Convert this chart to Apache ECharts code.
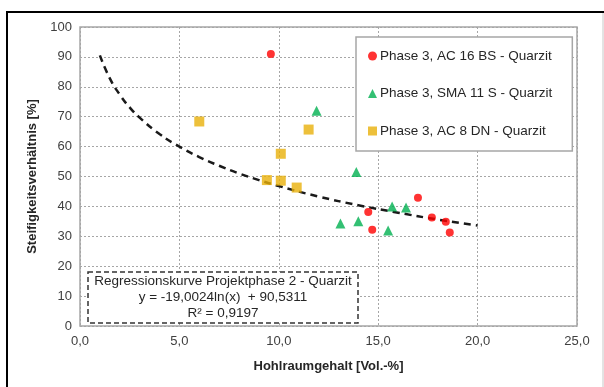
<!DOCTYPE html>
<html>
<head>
<meta charset="utf-8">
<script src="https://cdn.jsdelivr.net/npm/echarts@6/dist/echarts.min.js"></script>
<style>html,body{margin:0;padding:0;background:#fff;}#c{width:604px;height:387px;}</style>
</head>
<body>
<div id="c"></div>
<script>
// Data
const xTicks = [0, 5, 10, 15, 20, 25];
const yTicks = [0, 10, 20, 30, 40, 50, 60, 70, 80, 90, 100];
const seriesNames = ['Phase 3, AC 16 BS - Quarzit', 'Phase 3, SMA 11 S - Quarzit', 'Phase 3, AC 8 DN - Quarzit'];
const ac16bs = [[9.6, 91.0], [14.5, 38.1], [14.7, 32.2], [17.0, 42.9], [17.7, 36.3], [18.4, 34.9], [18.6, 31.3]];
const sma11s = [[11.9, 72.0], [13.9, 51.5], [13.1, 34.3], [14.0, 35.0], [15.5, 31.9], [15.7, 40.0], [16.4, 39.6]];
const ac8dn = [[6.0, 68.4], [11.5, 65.7], [10.1, 57.6], [9.4, 48.8], [10.1, 48.6], [10.9, 46.3]];
const curveX = [1.0, 1.5, 2, 2.5, 3, 4, 5, 6, 7, 8, 9, 10, 12, 14, 16, 18, 20];
const curveY = [90.5, 82.8, 77.4, 73.1, 69.7, 64.2, 60.0, 56.5, 53.6, 51.0, 48.8, 46.8, 43.3, 40.4, 37.9, 35.6, 33.6];
const regressionText = ['Regressionskurve Projektphase 2 - Quarzit', 'y = -19,0024ln(x)  + 90,5311', 'R² = 0,9197'];

const chart = echarts.init(document.getElementById('c'), null, {renderer: 'canvas'});
const font = 'Liberation Sans, Arial, sans-serif';
const fmt = v => v.toFixed(1).replace('.', ',');

chart.setOption({
  animation: false,
  backgroundColor: '#fff',
  textStyle: {fontFamily: font},
  grid: {left: 80, right: 27, top: 27, bottom: 61, show: true, borderColor: '#a6a6a6', borderWidth: 1.5, containLabel: false},
  xAxis: {
    type: 'value', min: xTicks[0], max: xTicks[xTicks.length - 1], interval: 5,
    name: 'Hohlraumgehalt [Vol.-%]', nameLocation: 'middle', nameGap: 34,
    nameTextStyle: {fontFamily: font, fontWeight: 'bold', fontSize: 13, color: '#262626'},
    axisLine: {show: false}, axisTick: {show: false},
    axisLabel: {formatter: fmt, fontFamily: font, fontSize: 13, color: '#404040', margin: 9},
    splitLine: {show: true, lineStyle: {color: '#a6a6a6', type: [2, 2], width: 1}}
  },
  yAxis: {
    type: 'value', min: yTicks[0], max: yTicks[yTicks.length - 1], interval: 10,
    name: 'Steifigkeitsverhältnis [%]', nameLocation: 'middle', nameGap: 41, nameRotate: 90,
    nameTextStyle: {fontFamily: font, fontWeight: 'bold', fontSize: 13, color: '#262626'},
    axisLine: {show: false}, axisTick: {show: false},
    axisLabel: {fontFamily: font, fontSize: 13, color: '#404040', margin: 8},
    splitLine: {show: true, lineStyle: {color: '#a6a6a6', type: [2, 2], width: 1}}
  },
  legend: {
    orient: 'vertical', left: 356, top: 37,
    padding: [12, 20, 13, 12], itemGap: 23.5, itemWidth: 9, itemHeight: 9,
    backgroundColor: '#fff', borderColor: '#a6a6a6', borderWidth: 1.5,
    textStyle: {fontFamily: font, fontSize: 13.5, color: '#262626', padding: [0, 0, 0, -2]},
    data: seriesNames
  },
  series: [
    {name: 'curve', type: 'line', data: curveX.map((x, i) => [x, curveY[i]]), smooth: true, symbol: 'none',
      lineStyle: {color: '#1a1a1a', width: 2.5, type: [7, 5]}, z: 1, silent: true},
    {name: seriesNames[0], type: 'scatter', data: ac16bs, symbol: 'circle', symbolSize: 8, itemStyle: {color: '#ff0000'}, z: 3},
    {name: seriesNames[1], type: 'scatter', data: sma11s, symbol: 'triangle', symbolSize: 10, itemStyle: {color: '#00b050'}, z: 3},
    {name: seriesNames[2], type: 'scatter', data: ac8dn, symbol: 'rect', symbolSize: 10, itemStyle: {color: '#e8b00a'}, z: 3}
  ],
  graphic: [
    {type: 'rect', shape: {x: 7, y: 12, width: 640, height: 420}, style: {fill: null, stroke: '#000', lineWidth: 2}, silent: true, z: 100},
    {type: 'line', shape: {x1: 603, y1: 13, x2: 603, y2: 387}, style: {stroke: '#c8c8c8', lineWidth: 1}, silent: true, z: 100},
    {type: 'rect', shape: {x: 88, y: 272, width: 270, height: 51}, style: {fill: '#fff', stroke: '#333', lineWidth: 1.5, lineDash: [5, 3]}, z: 50},
    {type: 'text', x: 223, y: 281, style: {text: regressionText[0], font: '13.5px ' + font, fill: '#262626', textAlign: 'center', textVerticalAlign: 'middle'}, z: 51},
    {type: 'text', x: 223, y: 297, style: {text: regressionText[1], font: '13.5px ' + font, fill: '#262626', textAlign: 'center', textVerticalAlign: 'middle'}, z: 51},
    {type: 'text', x: 223, y: 313, style: {text: regressionText[2], font: '13.5px ' + font, fill: '#262626', textAlign: 'center', textVerticalAlign: 'middle'}, z: 51}
  ]
});
</script>
</body>
</html>
